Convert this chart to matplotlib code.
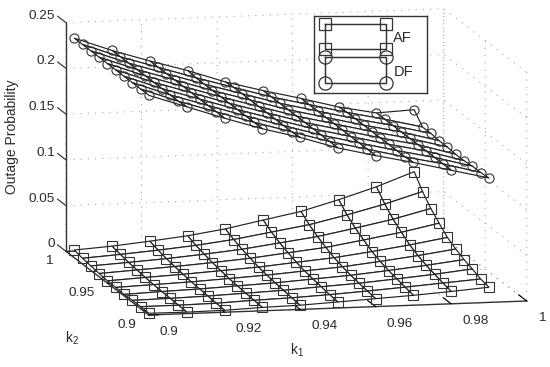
import numpy as np
import matplotlib
matplotlib.use("Agg")
import matplotlib.pyplot as plt
from mpl_toolkits.mplot3d import proj3d

plt.rcParams['font.family'] = ['Liberation Sans', 'DejaVu Sans']
plt.rcParams['mathtext.fontset'] = 'custom'
plt.rcParams['mathtext.rm'] = 'Liberation Sans'
plt.rcParams['mathtext.default'] = 'regular'

k1_values = [0.90, 0.91, 0.92, 0.93, 0.94, 0.95, 0.96, 0.97, 0.98, 0.99]
k2_values = [0.99, 0.98, 0.97, 0.96, 0.95, 0.94, 0.93, 0.92, 0.91, 0.90]

# rows follow k2_values, columns follow k1_values
outage_af = [
    [.0084, .0111, .0150, .0194, .0254, .0335, .0414, .0527, .0653, .0803],
    [.0063, .0090, .0121, .0158, .0207, .0273, .0338, .0430, .0533, .0655],
    [.0049, .0072, .0098, .0131, .0170, .0224, .0278, .0355, .0437, .0539],
    [.0036, .0059, .0081, .0109, .0141, .0186, .0229, .0295, .0364, .0448],
    [.0025, .0047, .0066, .0090, .0114, .0151, .0186, .0238, .0295, .0362],
    [.0023, .0038, .0053, .0074, .0096, .0126, .0156, .0200, .0248, .0305],
    [.0016, .0032, .0045, .0063, .0081, .0107, .0133, .0170, .0211, .0259],
    [.0021, .0027, .0037, .0053, .0069, .0093, .0116, .0148, .0183, .0226],
    [.0021, .0022, .0028, .0045, .0057, .0076, .0100, .0127, .0157, .0186],
    [.0019, .0016, .0021, .0037, .0046, .0066, .0087, .0108, .0135, .0166],
]
outage_df = [
    [.240, .225, .212, .200, .186, .175, .165, .154, .146, .148],
    [.240, .225, .212, .199, .187, .175, .165, .155, .146, .136],
    [.240, .225, .212, .199, .187, .175, .165, .155, .146, .136],
    [.240, .225, .212, .199, .187, .175, .165, .155, .146, .135],
    [.240, .225, .212, .199, .187, .175, .165, .155, .146, .135],
    [.240, .225, .212, .199, .187, .175, .165, .155, .146, .134],
    [.240, .225, .212, .199, .187, .175, .165, .155, .146, .134],
    [.240, .225, .212, .199, .187, .175, .165, .155, .146, .135],
    [.240, .225, .212, .199, .187, .175, .165, .155, .146, .135],
    [.240, .226, .212, .199, .188, .175, .165, .156, .146, .136],
]

k1_ticks = [0.9, 0.92, 0.94, 0.96, 0.98, 1.0]
k1_ticklabels = ['0.9', '0.92', '0.94', '0.96', '0.98', '1']
k2_ticks = [0.9, 0.95, 1.0]
k2_ticklabels = ['0.9', '0.95', '1']
z_ticks = [0, 0.05, 0.1, 0.15, 0.2, 0.25]
z_ticklabels = ['0', '0.05', '0.1', '0.15', '0.2', '0.25']

legend_x = [0.097, 0.637]
legend_af_y = [0.108, 0.432]
legend_df_y = [0.536, 0.874]

W, H = 550, 367
INK = '#2a2a2a'
TICK_FS = 9.7
fig = plt.figure(figsize=(W / 100, H / 100), dpi=100, facecolor='white')
ax = fig.add_axes([0.1, 0.1, 0.6, 0.6 * W / H], projection='3d',
                  proj_type='ortho', computed_zorder=False)
ax.view_init(elev=9.7, azim=-102.4)
ax.set_box_aspect((1, 1, 0.6))
ax.patch.set_alpha(0)

ax.set_xlim(0.9, 1.0)
ax.set_ylim(0.9, 1.0)
ax.set_zlim(0, 0.25)
ax.set_xticks(k1_ticks, [''] * len(k1_ticks))
ax.set_yticks(k2_ticks, [''] * len(k2_ticks))
ax.set_zticks(z_ticks, [''] * len(z_ticks))

for axis, out in ((ax.xaxis, 1.2), (ax.yaxis, 0.32), (ax.zaxis, 0.0)):
    axis.set_pane_color((1, 1, 1, 0))
    axis.pane.set_edgecolor((1, 1, 1, 0))
    axis.line.set_color('#333333')
    axis.line.set_linewidth(1.0)
    axis._axinfo['grid'].update(color='#909090', linewidth=0.7, linestyle=(0, (1, 6.5)))
    axis._axinfo['tick'].update(inward_factor=0.0, outward_factor=out,
                                linewidth={True: 0.85, False: 0.5}, color='#333333')

# z-axis ticks point along k2 in the reference
for z in z_ticks:
    ax.plot([0.9, 0.9], [1.0, 1.01], [z, z], color='#333333', lw=0.85, zorder=1)

K1, K2 = np.meshgrid(k1_values, k2_values)
for zvals, marker, order in ((outage_af, 's', 2), (outage_df, 'o', 4)):
    Z = np.array(zvals)
    ax.plot_surface(K1, K2, Z, rstride=1, cstride=1, color='white', shade=False,
                    edgecolor='#222222', linewidth=0.85, zorder=order)
    ax.plot(K1.ravel(), K2.ravel(), Z.ravel(), ls='none', marker=marker, ms=6.6,
            mfc='none', mec='#333333', mew=0.8, zorder=order + 1)

# place the axes so that the box corners land where the reference has them
def pix(p):
    x, y, _ = proj3d.proj_transform(p[0], p[1], p[2], ax.get_proj())
    return ax.transData.transform((x, y))

for _ in range(3):
    fig.canvas.draw()
    a = pix((0.9, 0.9, 0))
    b = pix((1.0, 0.9, 0))
    f = 378.0 / np.hypot(*(b - a))
    pos = ax.get_position(original=True)
    w = pos.width * f
    h = w * W / H
    ax.set_position([pos.x0, pos.y0, w, h])
    fig.canvas.draw()
    a = pix((0.9, 0.9, 0))
    dx = (149 - a[0]) / W
    dy = ((H - 315) - a[1]) / H
    pos = ax.get_position(original=True)
    ax.set_position([pos.x0 + dx, pos.y0 + dy, pos.width, pos.height])
fig.canvas.draw()

def tick_text(point, label, dx, dy, ha):
    px, py = pix(point)
    fig.text((px + dx) / W, (py - dy) / H, label, ha=ha, va='center',
             fontsize=TICK_FS, color=INK)

for v, s in zip(k1_ticks, k1_ticklabels):
    tick_text((v, 0.9, 0), s, 11, 17, 'left')
for v, s in zip(k2_ticks, k2_ticklabels):
    tick_text((0.9, v, 0), s, -13, 10, 'right')
for v, s in zip(z_ticks, z_ticklabels):
    tick_text((0.9, 1.0, v), s, -11, -7, 'right')

fig.text(12 / W, 1 - 137 / H, 'Outage Probability', rotation=90, ha='center', va='center',
         fontsize=10, color=INK)
fig.text(297 / W, 1 - 350 / H, 'k$_1$', ha='center', va='center', fontsize=10, color=INK)
fig.text(72 / W, 1 - 338 / H, 'k$_2$', ha='center', va='center', fontsize=10, color=INK)

leg = fig.add_axes([314 / W, 1 - 92.7 / H, 113 / W, 77 / H], facecolor='white', zorder=5)
leg.set_xlim(0, 1)
leg.set_ylim(1, 0)
leg.set_xticks([])
leg.set_yticks([])
for s in leg.spines.values():
    s.set_linewidth(1.0)
    s.set_color('#333333')
for ys, marker in ((legend_af_y, 's'), (legend_df_y, 'o')):
    leg.plot(legend_x + legend_x[::-1] + legend_x[:1], [ys[0], ys[0], ys[1], ys[1], ys[0]],
             color='#333333', lw=1.05)
    leg.plot(legend_x * 2, [ys[0], ys[0], ys[1], ys[1]], ls='none', marker=marker,
             ms=8 if marker == 's' else 9.5, mfc='none', mec='#333333', mew=0.9)
leg.text(0.78, 0.29, 'AF', ha='center', va='center', fontsize=10.5, color=INK)
leg.text(0.79, 0.73, 'DF', ha='center', va='center', fontsize=10.5, color=INK)

fig.savefig('out.png', dpi=100)
